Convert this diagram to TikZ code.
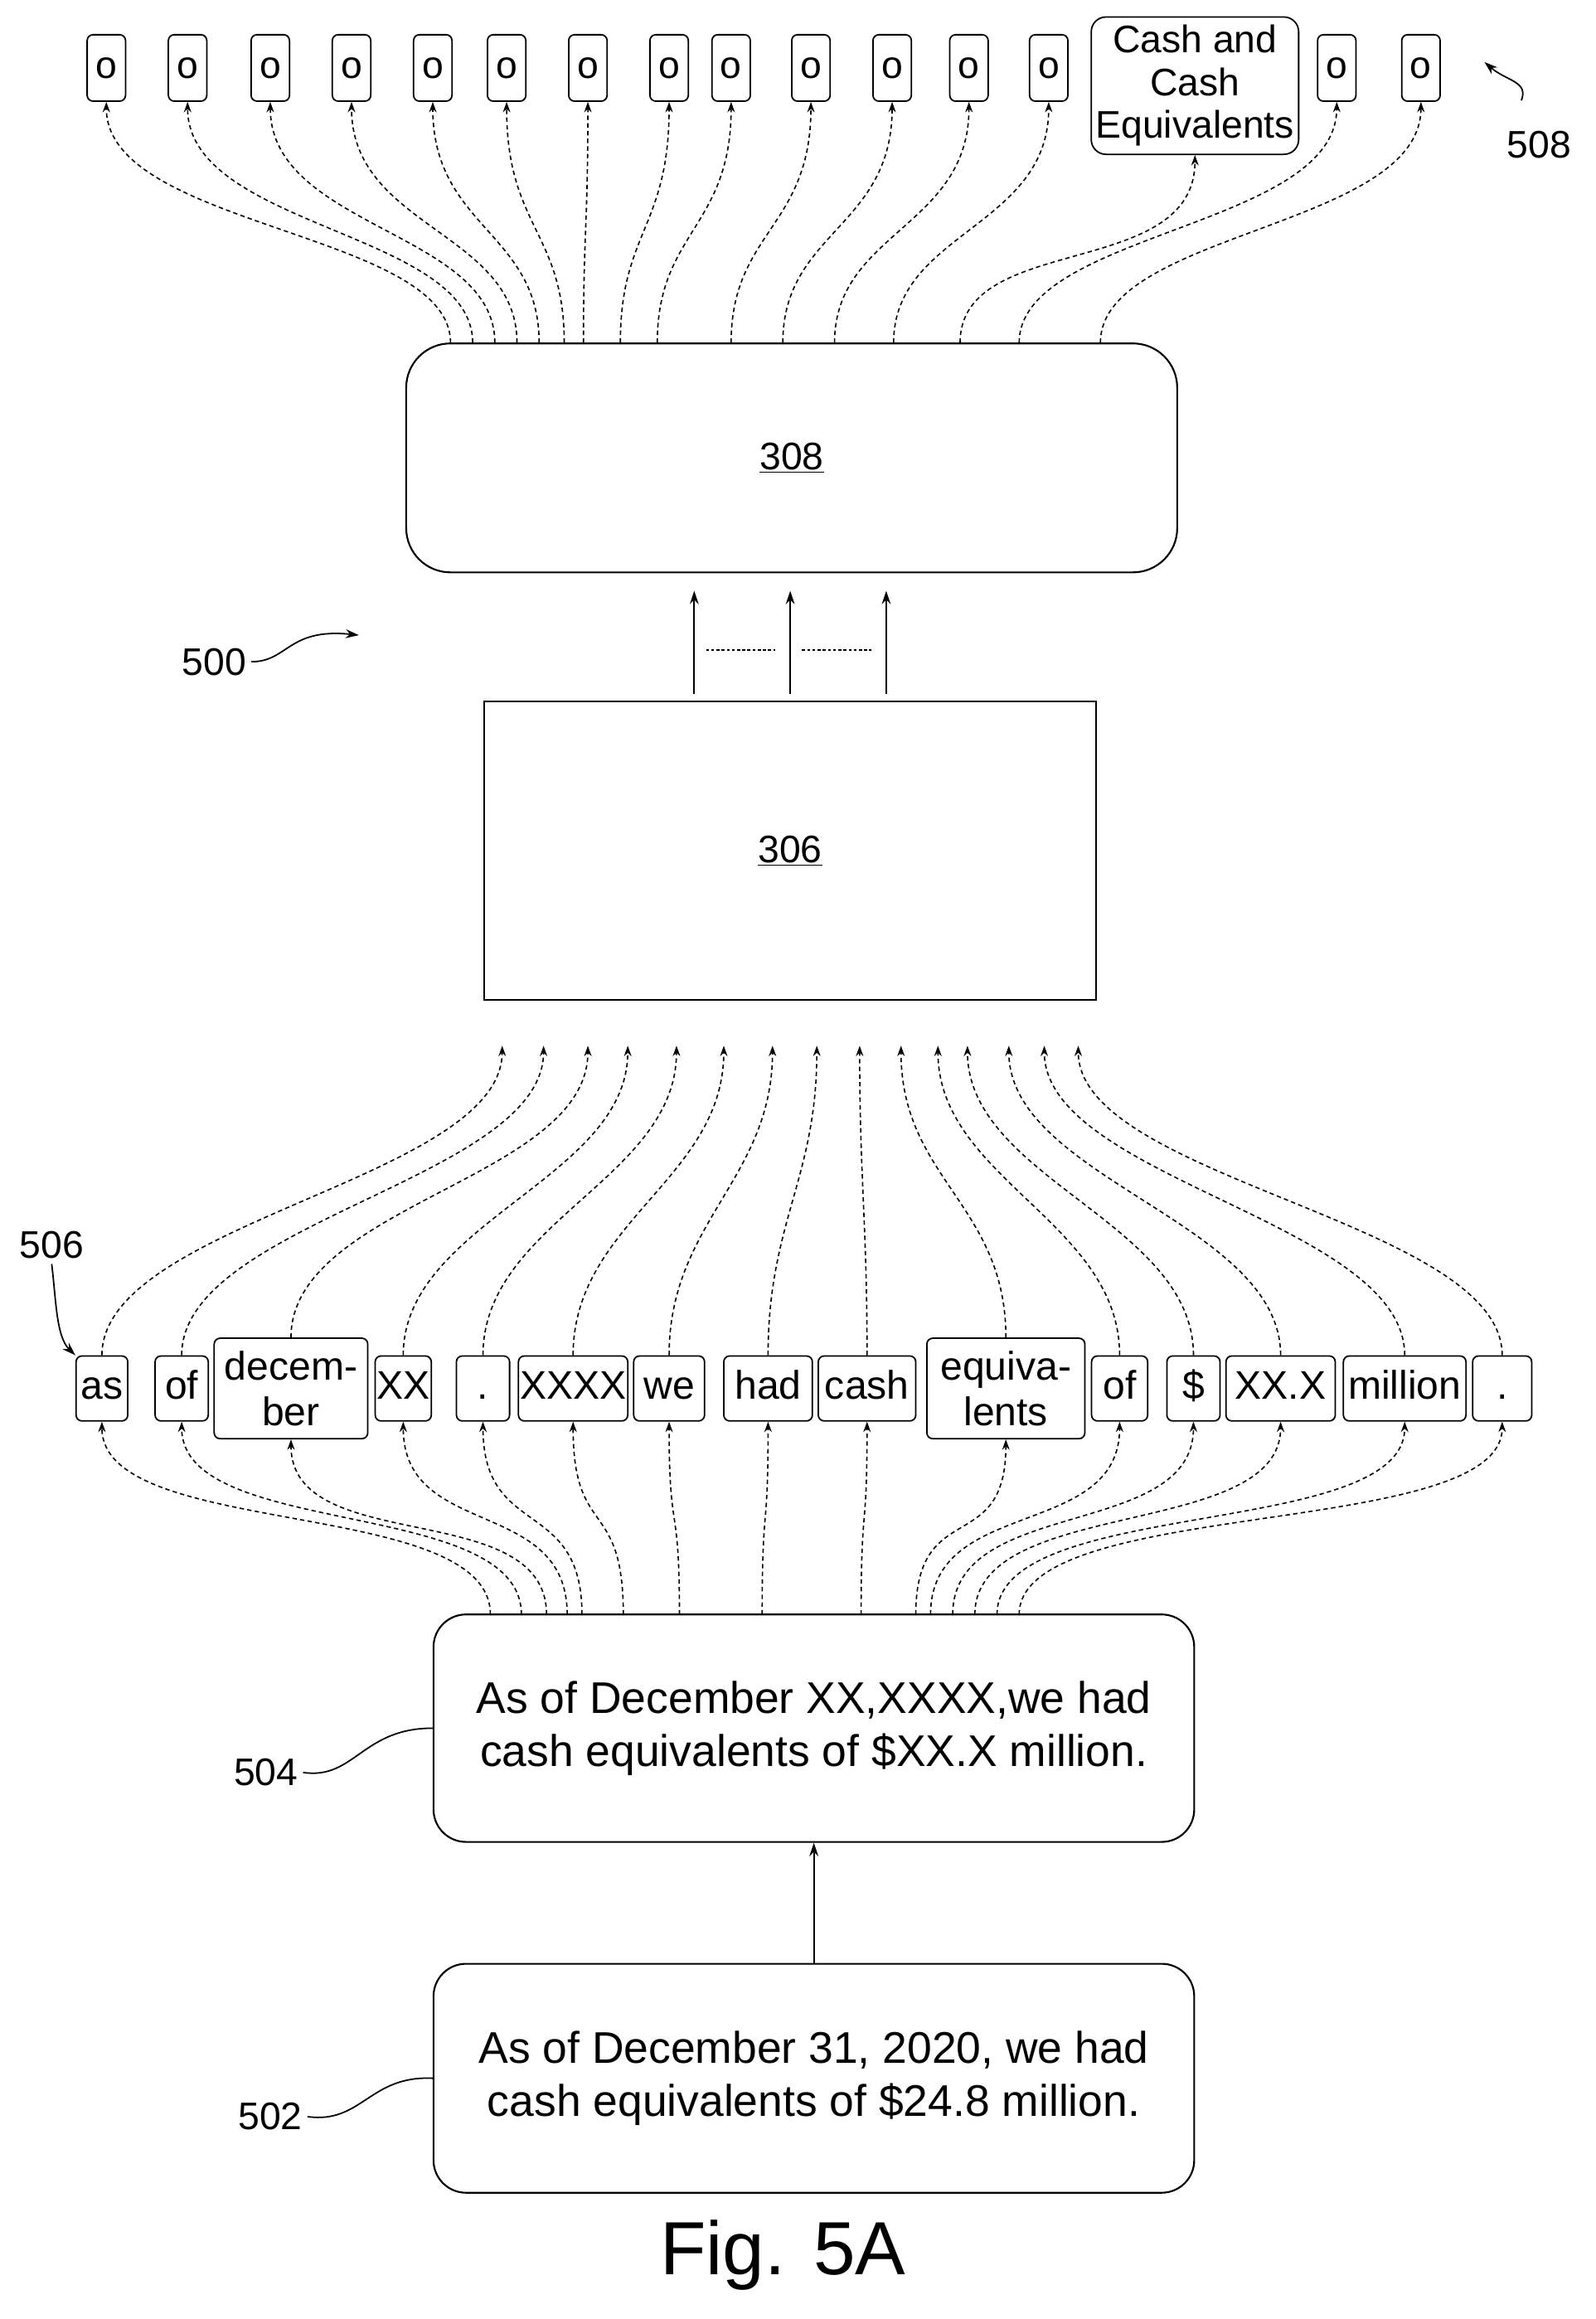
\documentclass[tikz,border=0pt]{standalone}
\usepackage{fontspec}
\setmainfont{Liberation Sans}
\usetikzlibrary{arrows.meta}
\begin{document}
\begin{tikzpicture}[x=1pt,y=-1pt,
  ln/.style={line width=1pt},
  dl/.style={line width=0.9pt,dash pattern=on 3pt off 2.2pt,-{Stealth[length=7pt,width=5pt]}},
  tok/.style={draw,line width=1pt,rounded corners=4pt,inner sep=0pt,font=\fontsize{27}{31}\selectfont,align=center,minimum height=44pt},
  obox/.style={draw,line width=1pt,rounded corners=4pt,minimum width=26pt,minimum height=45pt,font=\fontsize{26}{26}\selectfont,inner sep=0pt},
  big/.style={draw,line width=1.2pt},
  lab/.style={font=\fontsize{26}{26}\selectfont},
  txt/.style={font=\fontsize{30}{36}\selectfont,align=center}]
\useasboundingbox (0,0) rectangle (1080,1570);
% top outputs
\foreach \x [count=\i] in {72,127,183,238,293,343,398,453,495,549,604,656,710,809,905,962}{
  \ifnum\i=14
    \node[obox,font=\fontsize{26}{29}\selectfont,align=center,inner sep=3pt,minimum height=93pt,rounded corners=10pt] (t\i) at (\x,58) {Cash and\\Cash\\Equivalents};
  \else
    \node[obox] (t\i) at (\x,46) {o};
  \fi}
% box 308
\node[big,rounded corners=30pt,minimum width=522pt,minimum height=155pt] (b308) at (536,310) {\fontsize{26}{26}\selectfont\underline{308}};
\foreach \x [count=\i] in {305,320,335,350,365,382,395,420,445,495,530,565,605,650,690,745}{
  \coordinate (s\i) at (\x,232);
  \draw[dl] (s\i) .. controls +(0,-75) and +(0,85) .. (t\i.south);}
% box 306
\node[big,minimum width=414pt,minimum height=202pt] (b306) at (535,576) {\fontsize{26}{26}\selectfont\underline{306}};
\foreach \x [count=\i] in {470,535,600}{
  \coordinate (u\i) at (\x,470);
  \draw[ln,-{Stealth[length=9pt,width=6pt]}] (u\i) -- (\x,400);}
\draw[line width=1pt,dash pattern=on 2pt off 1.5pt] (478,440) -- (525,440) (543,440) -- (590,440);
% labels 500
\node[lab] (l500) at (145,448) {500};
\draw[ln,-{Stealth[length=9pt,width=6pt]}] (l500.east) .. controls (195,448) and (195,425) .. (243,430);
% tokens
\foreach \x/\w/\t [count=\i] in {69/35/as,123/36/of,197/104/{decem-\\ber},273/38/XX,327/36/.,388/74/XXXX,453/48/we,520/60/had,587/66/cash,681/107/{equiva-\\lents},758/38/of,808/36/\$,867/74/XX.X,951/83/million,1017/40/.}{
  \ifnum\i=3 \node[tok,minimum width=\w pt,minimum height=68pt] (k\i) at (\x,940) {\t};
  \else\ifnum\i=10 \node[tok,minimum width=\w pt,minimum height=68pt] (k\i) at (\x,940) {\t};
  \else \node[tok,minimum width=\w pt,text height=20pt,text depth=6pt] (k\i) at (\x,940) {\t};
  \fi\fi}
% tips into 306
\foreach \x [count=\i] in {340,368,398,425,458,490,523,553,582,610,635,655,683,707,730}{
  \coordinate (p\i) at (\x,708);
  \draw[dl] (k\i.north) .. controls +(0,-90) and +(0,90) .. (p\i);}
% box 504
\node[big,rounded corners=22pt,minimum width=515pt,minimum height=154pt,txt] (b504) at (551,1170) {As of December XX,XXXX,we had\\cash equivalents of \$XX.X million.};
\foreach \x [count=\i] in {332,353,370,384,394,422,460,516,583,620,630,645,660,675,690}{
  \coordinate (q\i) at (\x,1093);
  \draw[dl] (q\i) .. controls +(0,-80) and +(0,80) .. (k\i.south);}
% box 502
\node[big,rounded corners=22pt,minimum width=515pt,minimum height=155pt,txt] (b502) at (551,1407) {As of December 31, 2020, we had\\cash equivalents of \$24.8 million.};
\draw[ln,-{Stealth[length=9pt,width=6pt]}] (b502.north) -- (b504.south);
% labels
\node[lab] (l504) at (180,1200) {504};
\draw[ln] (l504.east) .. controls (240,1205) and (245,1170) .. (b504.west);
\node[lab] (l502) at (183,1433) {502};
\draw[ln] (l502.east) .. controls (245,1438) and (250,1405) .. (b502.west);
\node[lab] (l506) at (35,843) {506};
\draw[ln,-{Stealth[length=9pt,width=6pt]}] (l506.south) .. controls (38,880) and (38,905) .. (k1.north west);
\node[lab] (l508) at (1042,98) {508};
\draw[ln,-{Stealth[length=9pt,width=6pt]}] (1030,68) .. controls (1035,55) and (1020,55) .. (1005,42);
\node[font=\fontsize{51}{51}\selectfont] (fig) at (530,1527) {Fig. 5A};
\end{tikzpicture}
\end{document}
